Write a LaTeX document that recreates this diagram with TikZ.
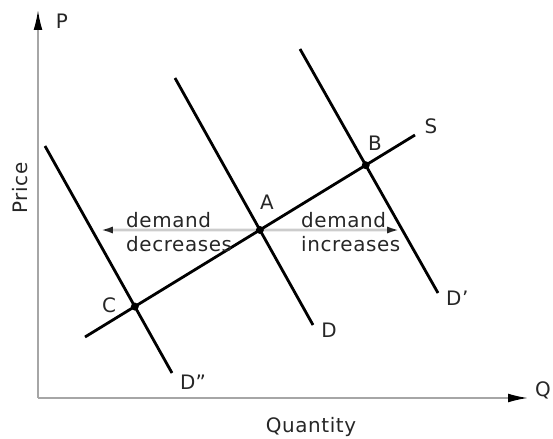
\documentclass[tikz,border=0pt]{standalone}
\usepackage{fontspec}
\setmainfont{DejaVu Sans}[LetterSpace=3]
\usetikzlibrary{arrows.meta}

\begin{document}
\begin{tikzpicture}[x=0.03cm, y=-0.03cm,
    font=\fontsize{17}{21}\selectfont,
    axis/.style={draw=gray!70, line width=1.4pt, -{Latex[length=17pt, width=7.5pt, color=black]}},
    curve/.style={draw=black, line width=2.4pt},
    moveline/.style={draw=gray!40, line width=2.2pt, -{Latex[length=11pt, width=6pt, color=black!85]}},
    lbl/.style={inner sep=0pt, text=black!85}]
    \useasboundingbox (0,0) rectangle (553,438);

    \coordinate (O) at (38,398);
    \coordinate (Ptop) at (38,10);
    \coordinate (Qend) at (528,398);

    \coordinate (D1) at (175,78);
    \coordinate (D2) at (313,325);
    \coordinate (Dp1) at (300,49);
    \coordinate (Dp2) at (438,293);
    \coordinate (Dpp1) at (45,146);
    \coordinate (Dpp2) at (172,373);
    \coordinate (S1) at (85,337);
    \coordinate (S2) at (415,135);

    \coordinate (A) at (intersection of D1--D2 and S1--S2);
    \coordinate (B) at (intersection of Dp1--Dp2 and S1--S2);
    \coordinate (C) at (intersection of Dpp1--Dpp2 and S1--S2);

    \coordinate (Lend) at (100,230);
    \coordinate (Rend) at (400,230);

    \draw[axis] (O) to (Ptop);
    \draw[axis] (O) to (Qend);

    \draw[moveline] (A) to (Lend);
    \draw[moveline] (A) to (Rend);

    \draw[curve] (D1) to (D2);
    \draw[curve] (Dp1) to (Dp2);
    \draw[curve] (Dpp1) to (Dpp2);
    \draw[curve] (S1) to (S2);

    \fill[black] (A) circle (4);
    \fill[black] (B) circle (4);
    \fill[black] (C) circle (4);

    \node[lbl] (labP) at (62,21) {P};
    \node[lbl] (labQ) at (543,390) {Q};
    \node[lbl, rotate=90] (labPrice) at (20,188) {Price};
    \node[lbl] (labQty) at (311,427) {Quantity};

    \node[lbl] (labA) at (267,202) {A};
    \node[lbl] (labB) at (375,143) {B};
    \node[lbl] (labC) at (109,305) {C};
    \node[lbl] (labS) at (431,126) {S};
    \node[lbl] (labD) at (329,330) {D};
    \node[lbl, anchor=west] (labDp) at (446,298) {D'};
    \node[lbl, anchor=west] (labDpp) at (180,382) {D''};

    \node[lbl, anchor=north west, align=left] (dec) at (126,212) {demand\\decreases};
    \node[lbl, anchor=north west, align=left] (inc) at (301,212) {demand\\increases};
\end{tikzpicture}
\end{document}
